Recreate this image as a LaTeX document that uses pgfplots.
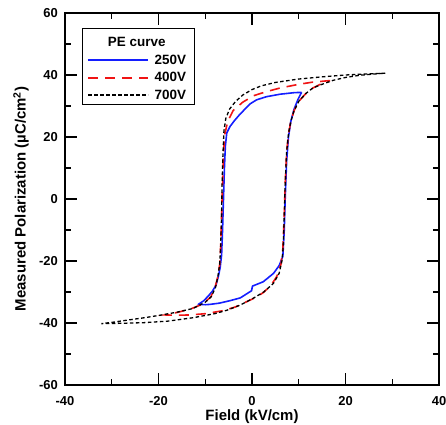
\documentclass[border=0pt]{standalone}
\usepackage{pgfplots}
\pgfplotsset{compat=1.18}
\usepackage{fontspec}
\setmainfont{Liberation Sans}
\definecolor{cblue}{RGB}{20,30,255}
\definecolor{cred}{RGB}{240,20,20}

\pgfplotstableread{
x y
28.5 40.6
24 40.3
20 40.0
15 39.4
10 38.7
5 37.6
2 36.5
0 35.3
-2 33.5
-3.5 31.5
-4.8 29
-5.6 26
-6.0 22
-6.2 15
-6.4 5
-6.5 -5
-6.7 -15
-6.9 -21
-7.3 -25
-7.8 -28.5
-8.7 -31.5
-10 -33.3
-12.6 -35.3
-16 -36.5
-19.7 -37.5
-23 -38.3
-26.8 -39.1
-30 -39.8
-32.2 -40.2
-28 -40.1
-23.2 -39.9
-18 -39.4
-12.6 -38.3
-8 -37
-5.4 -35.9
-2.5 -34.2
0.3 -32
2.5 -30
4.6 -27.2
5.8 -24
6.4 -20
6.7 -15
6.9 -5
7.1 5
7.4 15
7.8 21
8.3 25
9 28.5
10 31.5
11.5 34
13 35.8
15 37
17.4 38.3
20 39.2
23 39.9
26 40.3
28.5 40.6
}\blackloop

\pgfplotstableread{
x y
16.7 38.2
13 37.7
10 37.0
6 35.8
3 34.6
0.3 33.3
-2 31.2
-4 28.6
-5.2 25
-5.8 21
-6.1 15
-6.3 5
-6.5 -5
-6.7 -15
-6.9 -21
-7.3 -25
-7.9 -28.5
-8.8 -31.5
-10.4 -33.8
-13 -35.4
-16 -36.6
-18.6 -37.4
-16 -37.5
-13.3 -37.4
-10 -37.0
-6.1 -36
-3.5 -34.8
-1.1 -33.1
1 -31.6
2.4 -30.2
4 -28
5.3 -25
6.2 -21
6.6 -16
6.9 -5
7.1 5
7.4 15
7.8 21
8.3 25
9 28.5
10 31.5
11.5 34
13 35.8
15 37.3
16.7 38.2
}\redloop

\pgfplotstableread{
x y
10.6 34.4
9 34.3
6 33.8
3.1 33.0
1 32
-0.4 30.7
-1.5 29
-2.6 27.3
-3.8 25.2
-4.7 23.4
-5.4 21.3
-5.7 17
-5.9 10
-6.1 0
-6.3 -10
-6.5 -18
-6.8 -22
-7.2 -25
-7.7 -27.8
-8.5 -29.8
-9.3 -31.2
-10.3 -32.8
-11.5 -34
-10 -34.1
-9 -34
-7 -33.6
-4.7 -32.8
-2.5 -31.9
-0.1 -29.6
0.1 -28.1
2.4 -26.7
4.6 -24
5.8 -21.5
6.6 -18.5
6.9 -10
7.1 0
7.4 12
7.8 20
8.3 25
9.0 29
9.8 32
10.6 34.4
}\blueloop

\begin{document}
\begin{tikzpicture}
\begin{axis}[
  scale only axis,
  width=374bp, height=372bp,
  xmin=-40, xmax=40, ymin=-60, ymax=60,
  xtick={-40,-20,0,20,40},
  ytick={-60,-40,-20,0,20,40,60},
  minor x tick num=1, minor y tick num=1,
  tick align=inside,
  major tick length=12bp, minor tick length=6bp,
  axis line style={line width=1.3bp},
  every tick/.style={black, line width=1.1bp},
  /pgf/number format/assume math mode=true,
  tick label style={font=\fontsize{13}{13}\selectfont\bfseries, inner sep=0pt},
  xticklabel style={anchor=north, yshift=-11bp},
  yticklabel style={anchor=east, xshift=-7bp},
  xlabel={Field (kV/cm)},
  ylabel={Measured Polarization (µC/cm\textsuperscript{2})},
  every axis x label/.style={at={([yshift=-35bp]axis description cs:0.5,0)}, anchor=base,
    font=\fontsize{15}{15}\selectfont\bfseries, inner sep=0pt},
  every axis y label/.style={at={([xshift=-52bp]axis description cs:0,0.5)}, anchor=north, rotate=90,
    font=\fontsize{15}{15}\selectfont\bfseries, inner sep=0pt},
  legend style={at={(axis description cs:0.045,0.96)}, anchor=north west,
    draw=black, line width=1bp, font=\fontsize{13.5}{14}\selectfont\bfseries,
    inner xsep=5bp, inner ysep=2bp, row sep=3.5bp, column sep=4bp,
    nodes={inner sep=1.5bp}},
  legend cell align=left,
  legend image code/.code={\draw[#1, line width=1.9bp] plot coordinates {(0bp,0bp) (60bp,0bp)};},
]
\addlegendimage{empty legend}
\addlegendentry{\rule{0pt}{15bp}\makebox[0pt][c]{\hspace*{-36bp}PE curve}}
\addplot[color=cblue, line width=1.6bp, line join=round] table {\blueloop};
\addlegendentry{250V\hspace*{2bp}}
\addplot[color=cred, line width=1.6bp, dash pattern=on 10bp off 7bp] table {\redloop};
\addlegendentry{400V\hspace*{2bp}}
\addplot[color=black, line width=1.3bp, dash pattern=on 3.5bp off 2.5bp] table {\blackloop};
\addlegendentry{700V\hspace*{2bp}}
\coordinate (sw) at (rel axis cs:0,0);
\coordinate (ne) at (rel axis cs:1,1);
\end{axis}
\pgfresetboundingbox
\path ([xshift=-65bp,yshift=-40bp]sw) rectangle ([xshift=7bp,yshift=13bp]ne);
\end{tikzpicture}
\end{document}
